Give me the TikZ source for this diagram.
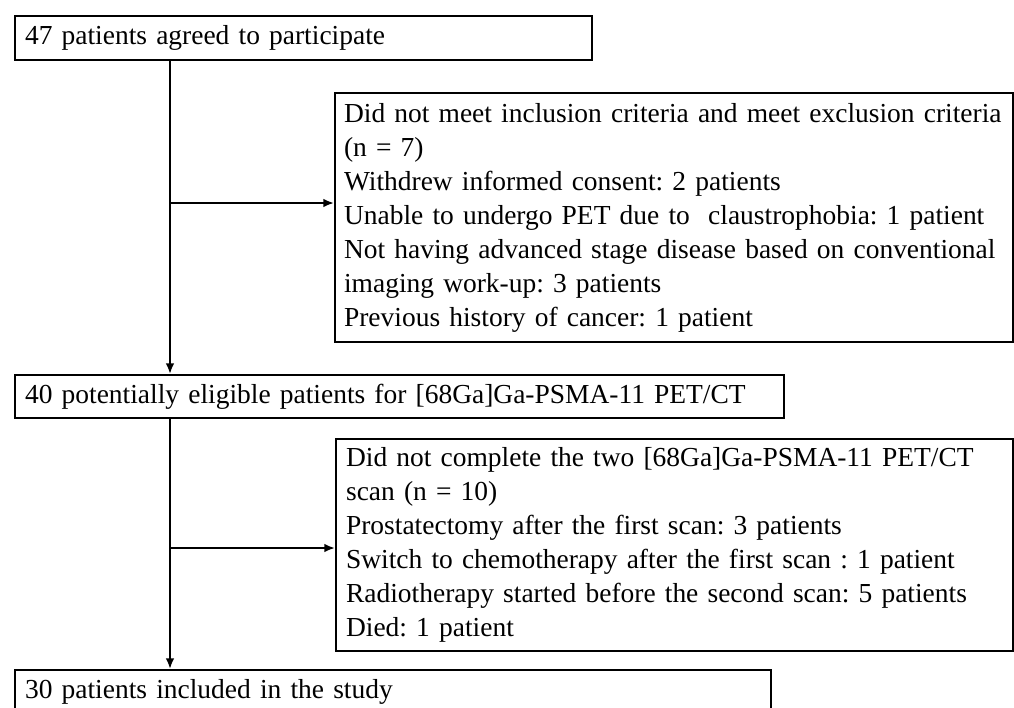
\documentclass[tikz,border=0pt]{standalone}
\usepackage{fontspec}
\setmainfont{Liberation Serif}
\frenchspacing
\hyphenpenalty=10000
\exhyphenpenalty=10000
\usetikzlibrary{arrows.meta}
\tikzset{
  okvir/.style={draw=black,line width=1.6pt,anchor=north west,align=left,
                inner xsep=7.5pt,inner ysep=0pt,fill=white,
                font=\fontsize{20.6}{25.5}\selectfont},
  strelica/.style={-{Latex[length=8pt,width=6.5pt]},line width=1.5pt,black},
}
\begin{document}
\begin{tikzpicture}[x=0.75pt,y=-0.75pt]

  % ---------- OKVIR SLIKE ----------
  \useasboundingbox (0,0) rectangle (1014,707);
  \clip (0,0) rectangle (1014,707);

  % ---------- GLAVNI TOK ----------
  \node[okvir,minimum width=432.75pt,text width=417.75pt,minimum height=33pt] (k47) at (14,15)
       {47 patients agreed to participate};
  \node[okvir,minimum width=576.75pt,text width=561.75pt,minimum height=32.25pt] (k40) at (14,374)
       {40 potentially eligible patients for [68Ga]Ga-PSMA-11 PET/CT};
  \node[okvir,minimum width=567pt,text width=552pt,minimum height=32.25pt] (k30) at (14,669)
       {30 patients included in the study};

  % ---------- ISKLJUCENI ----------
  \node[okvir,minimum width=508.5pt,text width=495pt,inner xsep=6.75pt,minimum height=186.75pt] (kiskl1) at (334,92)
       {Did not meet inclusion criteria and meet exclusion criteria\\
        (n = 7)\\
        Withdrew informed consent: 2 patients\\
        Unable to undergo PET due to \ claustrophobia: 1 patient\\
        Not having advanced stage disease based on conventional\\
        imaging work-up: 3 patients\\
        Previous history of cancer: 1 patient};
  \node[okvir,minimum width=507.75pt,text width=492.75pt,minimum height=159pt] (kiskl2) at (335,438)
       {Did not complete the two [68Ga]Ga-PSMA-11 PET/CT\\
        scan (n = 10)\\
        Prostatectomy after the first scan: 3 patients\\
        Switch to chemotherapy after the first scan : 1 patient\\
        Radiotherapy started before the second scan: 5 patients\\
        Died: 1 patient};

  % ---------- STRELICE ----------
  % tacke grananja leze na vertikalnoj liniji toka
  \coordinate (grana1) at (170,203);
  \coordinate (grana2) at (170,548);

  \draw[strelica] (k47.south -| grana1) -- (k40.north -| grana1);
  \draw[strelica] (k40.south -| grana1) -- (k30.north -| grana1);
  \draw[strelica] (grana1) -- (kiskl1.west |- grana1);
  \draw[strelica] (grana2) -- (kiskl2.west |- grana2);

\end{tikzpicture}
\end{document}
